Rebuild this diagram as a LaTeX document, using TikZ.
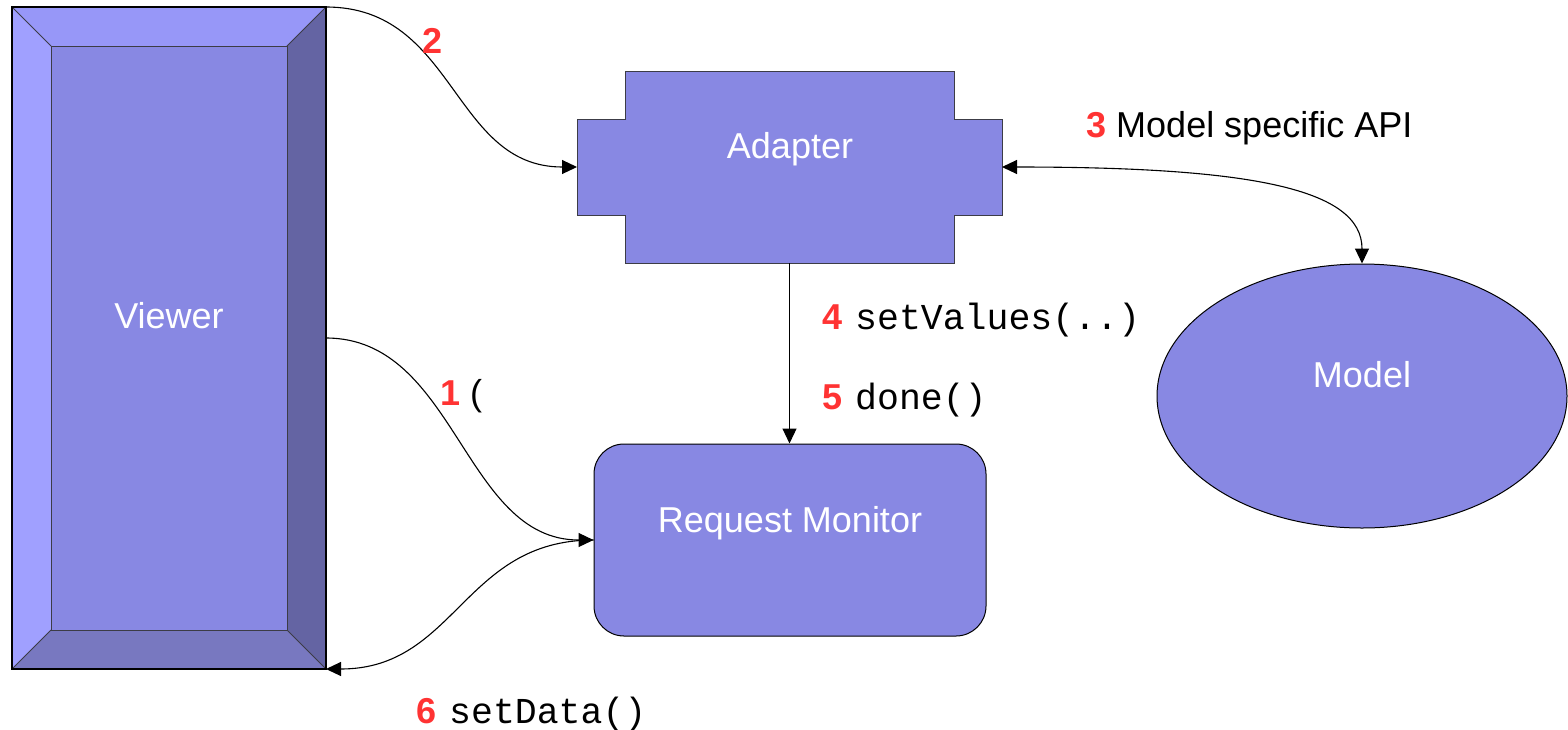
\documentclass[tikz,border=0pt]{standalone}
\usepackage{fontspec}
\setmainfont{Liberation Sans}
\setmonofont{Liberation Mono}
\usetikzlibrary{arrows.meta,shapes.geometric}

\definecolor{face}{RGB}{136,136,227}
\definecolor{bevtop}{RGB}{151,151,248}
\definecolor{bevleft}{RGB}{160,160,255}
\definecolor{bevright}{RGB}{100,100,163}
\definecolor{bevbottom}{RGB}{120,120,192}
\definecolor{stepred}{RGB}{255,51,51}
\definecolor{edgegray}{RGB}{60,60,70}

\newcommand\stepno[1]{{\bfseries\color{stepred}#1}}
\newcommand\calltext[1]{\ \hspace{3pt}{\ttfamily\fontsize{36.5}{43}\selectfont #1}}

\begin{document}
\begin{tikzpicture}[x=1pt,y=-1pt,
  big/.style={font=\fontsize{36}{43}\selectfont},
  title/.style={big,text=white,inner sep=0,anchor=base},
  note/.style={big,inner sep=0,anchor=base west},
  anchorbox/.style={inner sep=0,outer sep=0},
  bevline/.style={draw=edgegray,line width=0.9pt},
  conn/.style={line width=1.1pt,-{Triangle[length=15pt,width=14pt]}},
  twoway/.style={line width=1.1pt,{Triangle[length=15pt,width=14pt]}-{Triangle[length=15pt,width=14pt]}}
]
\useasboundingbox (0,0) rectangle (1568,729);

% Viewer: bevelled panel
\node[anchorbox,minimum width=314pt,minimum height=662pt] (viewer) at (169,338) {};
\node[anchorbox,minimum width=236pt,minimum height=584pt] (viewerface) at (169,338) {};
\fill[bevtop] (viewer.north west) -- (viewer.north east) -- (viewerface.north east) -- (viewerface.north west) -- cycle;
\fill[bevleft] (viewer.north west) -- (viewerface.north west) -- (viewerface.south west) -- (viewer.south west) -- cycle;
\fill[bevright] (viewer.north east) -- (viewer.south east) -- (viewerface.south east) -- (viewerface.north east) -- cycle;
\fill[bevbottom] (viewer.south west) -- (viewerface.south west) -- (viewerface.south east) -- (viewer.south east) -- cycle;
\fill[face] (viewerface.south west) rectangle (viewerface.north east);
\draw[bevline] (viewer.north west) -- (viewerface.north west)
               (viewer.north east) -- (viewerface.north east)
               (viewer.south west) -- (viewerface.south west)
               (viewer.south east) -- (viewerface.south east);
\draw[bevline] (viewerface.south west) rectangle (viewerface.north east);
\draw[line width=1.4pt] (viewer.south west) rectangle (viewer.north east);
\node[title] at (169,328) {Viewer};

% Adapter: cross-shaped block
\node[anchorbox,minimum width=425pt,minimum height=192pt] (adapter) at (789.5,167) {};
\filldraw[fill=face,draw=edgegray,line width=1pt]
  (625,71) -- (954,71) -- (954,119) -- (1002,119) -- (1002,215) -- (954,215)
  -- (954,263) -- (625,263) -- (625,215) -- (577,215) -- (577,119) -- (625,119) -- cycle;
\node[title] at (790,158) {Adapter};

% Request Monitor
\node[draw,fill=face,rounded corners=30pt,line width=1pt,inner sep=0,
      minimum width=392pt,minimum height=192pt] (monitor) at (790,540) {};
\node[title] at (790,532) {Request Monitor};

% Model
\node[draw,fill=face,ellipse,line width=1pt,inner sep=0,
      minimum width=410pt,minimum height=264pt] (model) at (1362,396) {};
\node[title] at (1362,387) {Model};

% Connectors
\draw[conn] (viewer.north east) .. controls +(130,0) and +(-125,0) .. (adapter.west);
\draw[conn] (viewer.east) .. controls +(130,0) and +(-130,0) .. (monitor.west);
\draw[conn] (monitor.west) .. controls +(-130,0) and +(130,0) .. (viewer.south east);
\draw[twoway] (adapter.east) .. controls +(248,0) and +(0,-75) .. (model.north);
\draw[conn] (adapter.south) -- (adapter.south |- monitor.north);

% Step labels
\node[note] at (422,53) {\stepno{2}};
\node[note] at (440,405) {\stepno{1} (};
\node[note] at (1086,137) {\stepno{3} Model specific API};
\node[note] at (822,329) {\stepno{4}\calltext{setValues(..)}};
\node[note] at (822,409) {\stepno{5}\calltext{done()}};
\node[note] at (416,723) {\stepno{6}\calltext{setData()}};
\end{tikzpicture}
\end{document}
